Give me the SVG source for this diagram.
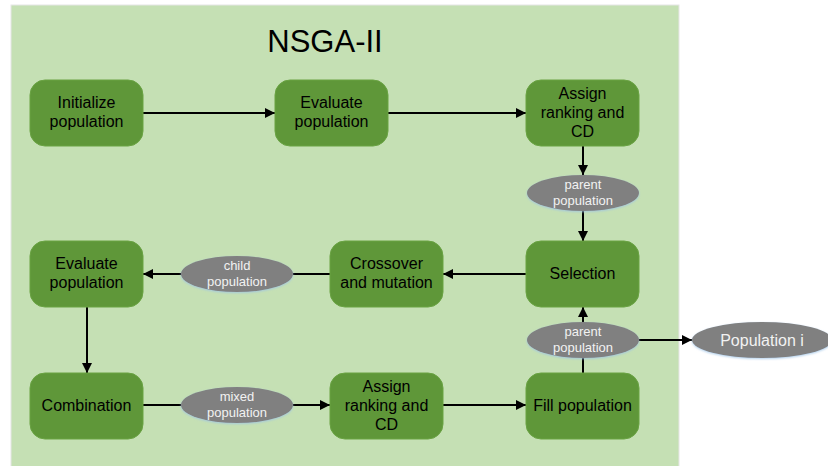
<svg xmlns="http://www.w3.org/2000/svg" width="828" height="466" viewBox="0 0 828 466">
<defs>
<marker id="ah" viewBox="0 0 10 10" refX="10" refY="5" markerWidth="5" markerHeight="5" orient="auto" markerUnits="strokeWidth">
<path d="M0,0 L10,5 L0,10 z" fill="#000"/>
</marker>
<filter id="glow" x="-20%" y="-30%" width="140%" height="160%">
<feGaussianBlur in="SourceAlpha" stdDeviation="1.2"/>
<feOffset dx="0" dy="1" result="b"/>
<feFlood flood-color="#9dc3e6" flood-opacity="0.8"/>
<feComposite in2="b" operator="in"/>
<feMerge><feMergeNode/><feMergeNode in="SourceGraphic"/></feMerge>
</filter>
</defs>
<style>
.bg{fill:#c5e0b4;stroke:#e6e6e6;stroke-width:1}
.box{fill:#5f9739;stroke:#6aa343;stroke-width:1}
.t{font-family:"Liberation Sans",Arial,sans-serif;font-size:16px;fill:#000;text-anchor:middle}
.ell{fill:#808080;filter:url(#glow)}
.et{font-family:"Liberation Sans",Arial,sans-serif;font-size:13px;fill:#f2f2f2;text-anchor:middle}
.pt{font-family:"Liberation Sans",Arial,sans-serif;font-size:16px;fill:#f2f2f2;text-anchor:middle}
.ln{stroke:#000;stroke-width:2;fill:none}
.ar{marker-end:url(#ah)}
</style>
<rect width="828" height="466" fill="#fff"/>
<rect class="bg" x="11" y="5" width="668" height="470"/>
<text x="325" y="52" font-family="'Liberation Sans',Arial,sans-serif" font-size="31" text-anchor="middle" fill="#000">NSGA-II</text>

<g id="connectors">
<line class="ln ar" x1="143" y1="113" x2="275" y2="113"/>
<line class="ln ar" x1="388" y1="113" x2="526" y2="113"/>
<line class="ln ar" x1="583" y1="146" x2="583" y2="175"/>
<line class="ln ar" x1="583" y1="211" x2="583" y2="241"/>
<line class="ln ar" x1="526" y1="274" x2="443" y2="274"/>
<line class="ln" x1="330" y1="274" x2="293" y2="274"/>
<line class="ln ar" x1="181" y1="274" x2="143" y2="274"/>
<line class="ln ar" x1="87" y1="307" x2="87" y2="373"/>
<line class="ln" x1="143" y1="405" x2="181" y2="405"/>
<line class="ln ar" x1="293" y1="405" x2="330" y2="405"/>
<line class="ln ar" x1="443" y1="405" x2="526" y2="405"/>
<line class="ln" x1="583" y1="373" x2="583" y2="358"/>
<line class="ln ar" x1="583" y1="322" x2="583" y2="307"/>
<line class="ln ar" x1="639" y1="340" x2="692" y2="340"/>
</g>

<g id="init">
<rect class="box" x="30" y="80" width="113" height="66" rx="15"/>
<text class="t" x="86.5" y="108">Initialize</text>
<text class="t" x="86.5" y="127">population</text>
</g>
<g id="eval1">
<rect class="box" x="275" y="80" width="113" height="66" rx="15"/>
<text class="t" x="331.5" y="108">Evaluate</text>
<text class="t" x="331.5" y="127">population</text>
</g>
<g id="assign1">
<rect class="box" x="526" y="80" width="113" height="66" rx="15"/>
<text class="t" x="582.5" y="99">Assign</text>
<text class="t" x="582.5" y="118">ranking and</text>
<text class="t" x="582.5" y="137">CD</text>
</g>
<g id="parent1">
<ellipse class="ell" cx="583" cy="193" rx="56" ry="18"/>
<text class="et" x="583" y="189">parent</text>
<text class="et" x="583" y="205">population</text>
</g>
<g id="selection">
<rect class="box" x="526" y="241" width="113" height="66" rx="15"/>
<text class="t" x="582.5" y="279">Selection</text>
</g>
<g id="crossover">
<rect class="box" x="330" y="241" width="113" height="66" rx="15"/>
<text class="t" x="386.5" y="269">Crossover</text>
<text class="t" x="386.5" y="288">and mutation</text>
</g>
<g id="child">
<ellipse class="ell" cx="237" cy="274" rx="56" ry="18"/>
<text class="et" x="237" y="270">child</text>
<text class="et" x="237" y="286">population</text>
</g>
<g id="eval2">
<rect class="box" x="30" y="241" width="113" height="66" rx="15"/>
<text class="t" x="86.5" y="269">Evaluate</text>
<text class="t" x="86.5" y="288">population</text>
</g>
<g id="combination">
<rect class="box" x="30" y="373" width="113" height="66" rx="15"/>
<text class="t" x="86.5" y="411">Combination</text>
</g>
<g id="mixed">
<ellipse class="ell" cx="237" cy="405" rx="56" ry="18"/>
<text class="et" x="237" y="401">mixed</text>
<text class="et" x="237" y="417">population</text>
</g>
<g id="assign2">
<rect class="box" x="330" y="373" width="113" height="66" rx="15"/>
<text class="t" x="386.5" y="392">Assign</text>
<text class="t" x="386.5" y="411">ranking and</text>
<text class="t" x="386.5" y="430">CD</text>
</g>
<g id="fill">
<rect class="box" x="526" y="373" width="113" height="66" rx="15"/>
<text class="t" x="582.5" y="411">Fill population</text>
</g>
<g id="parent2">
<ellipse class="ell" cx="583" cy="340" rx="56" ry="18"/>
<text class="et" x="583" y="336">parent</text>
<text class="et" x="583" y="352">population</text>
</g>
<g id="popi">
<ellipse class="ell" cx="762" cy="340" rx="70" ry="18"/>
<text class="pt" x="762" y="346">Population i</text>
</g>
</svg>
